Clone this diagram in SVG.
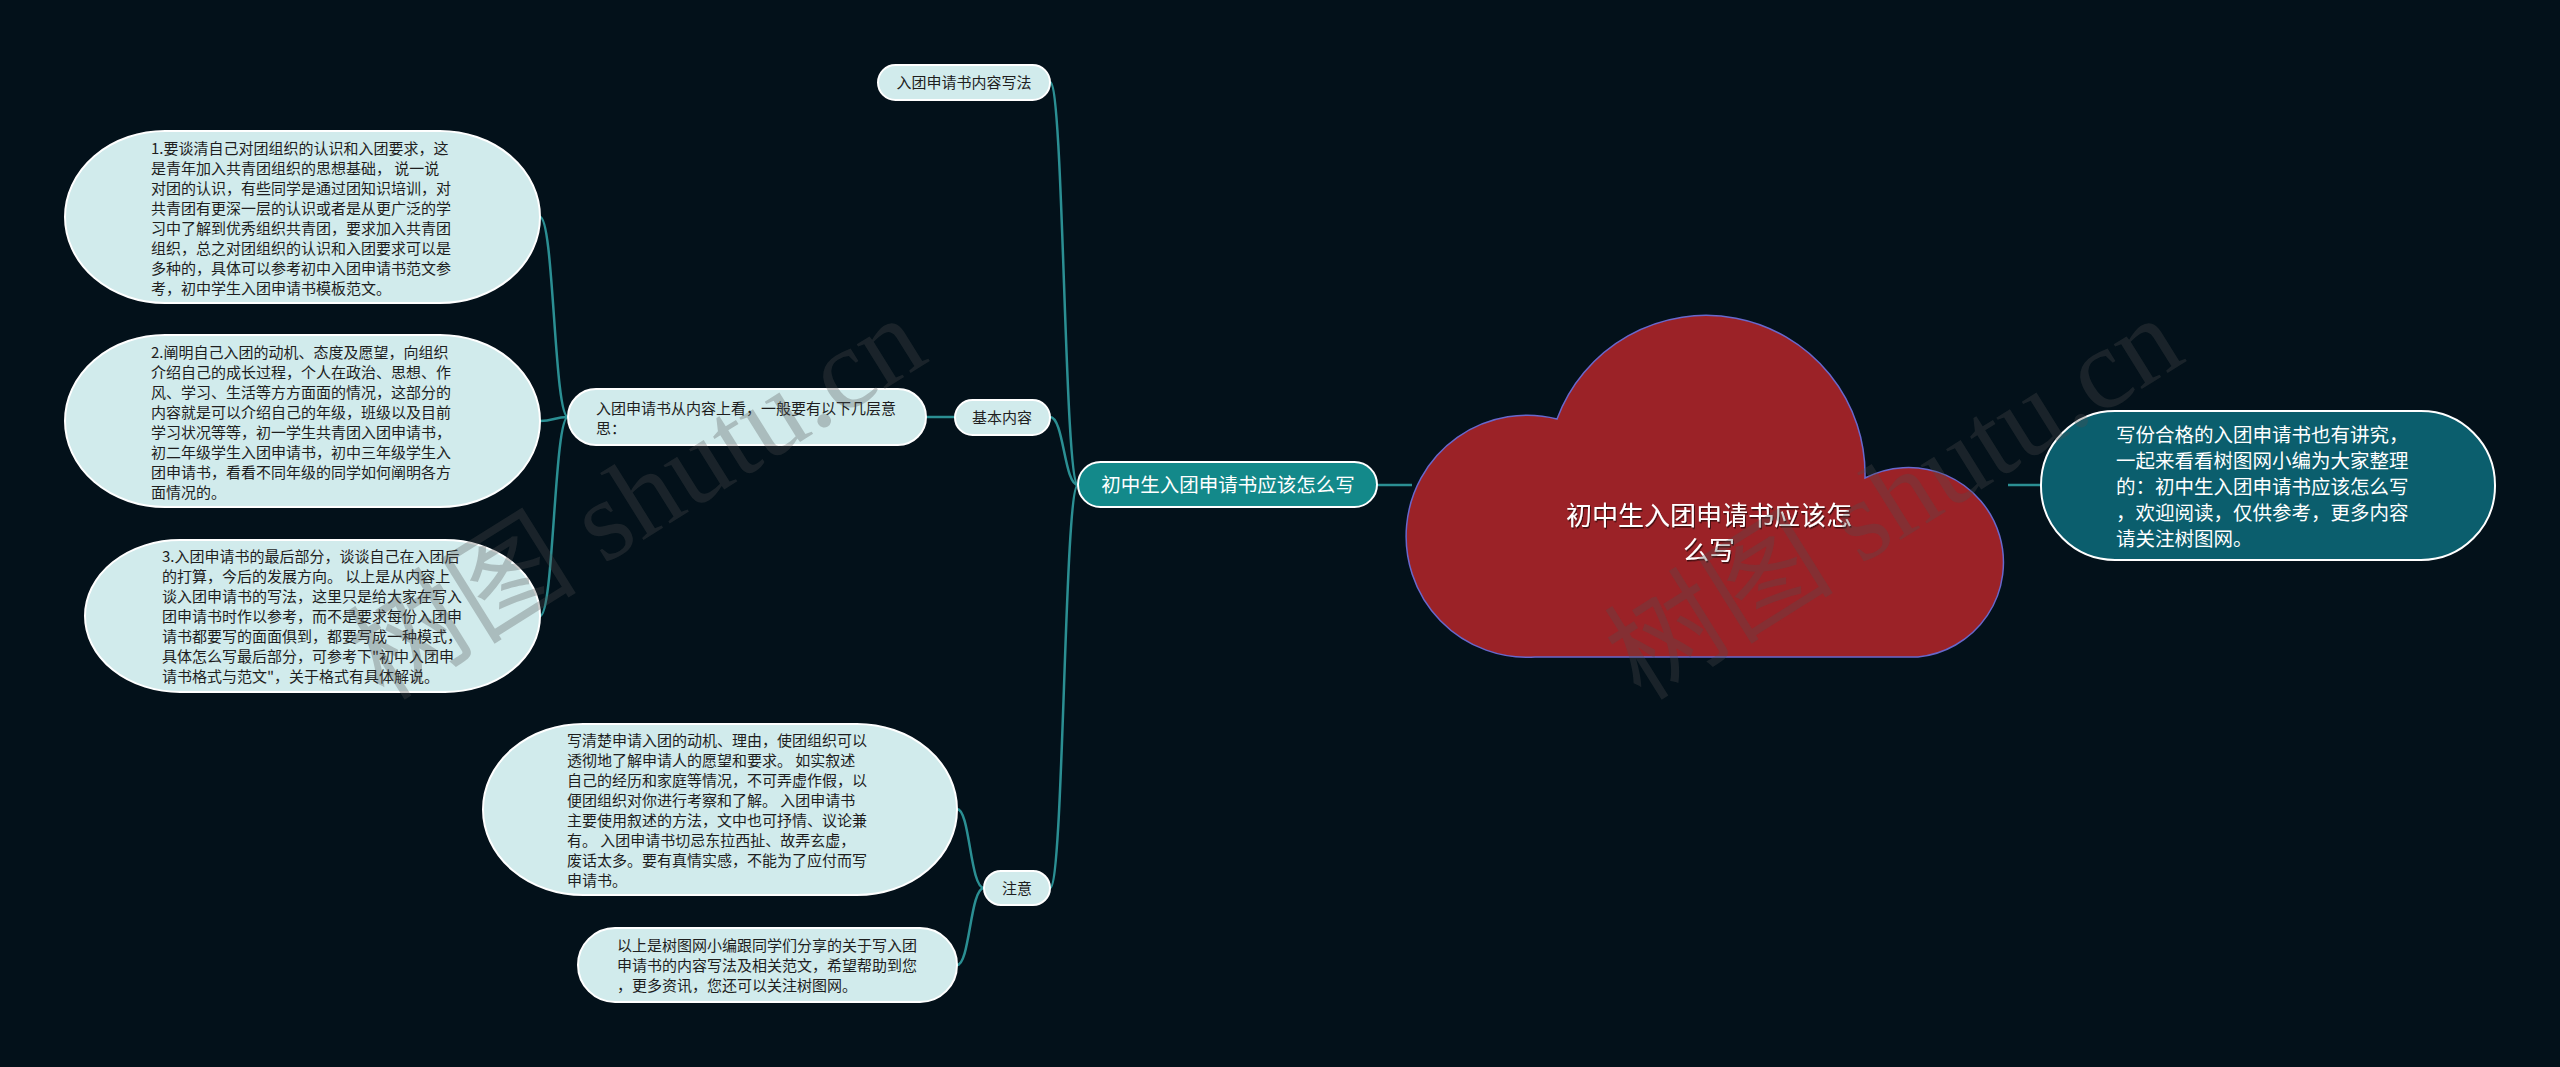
<svg xmlns="http://www.w3.org/2000/svg" width="2560" height="1067" viewBox="0 0 2560 1067">
<defs>
<style>
.bg{fill:#03111a}
.edge{fill:none;stroke:#2b8f93;stroke-width:2.5}
.light{fill:#d1ebec;stroke:#ffffff;stroke-width:2}
.t{font-family:"Noto Sans CJK SC","Noto Sans",sans-serif;font-size:15px;fill:#1e1e1e}
.tc{text-anchor:middle}
.w{font-family:"Noto Sans CJK SC","Noto Sans",sans-serif;fill:#ffffff}
.wm{font-family:"Liberation Serif","Noto Sans CJK SC",serif;font-size:115px;fill:#505050;fill-opacity:0.3}
</style>
<filter id="sh" x="-10%" y="-30%" width="120%" height="160%">
<feDropShadow dx="1" dy="1.5" stdDeviation="0.6" flood-color="#000" flood-opacity="0.6"/>
</filter>
</defs>
<rect class="bg" x="0" y="0" width="2560" height="1067"/>

<g id="connectors">
<path class="edge" d="M1078,485 C1064,485 1064,82 1050,82"/>
<path class="edge" d="M1078,485 C1064,485 1064,417 1050,417"/>
<path class="edge" d="M1078,485 C1064,485 1064,888 1050,888"/>
<path class="edge" d="M1377,485 L1412,485"/>
<path class="edge" d="M2008,485 L2041,485"/>
<path class="edge" d="M955,417 L926,417"/>
<path class="edge" d="M568,417 C554,417 554,217 540,217"/>
<path class="edge" d="M568,417 C554,417 554,421 540,421"/>
<path class="edge" d="M568,417 C554,417 554,616 540,616"/>
<path class="edge" d="M984,888 C970,888 970,809 957,809"/>
<path class="edge" d="M984,888 C970,888 970,965 957,965"/>
</g>

<g id="root">
<path d="M1557,419 A159,159 0 0 1 1865,478 A95,95 0 1 1 1918,657 L1535,657 A121,121 0 1 1 1557,419 Z" fill="#9b2227" stroke="#6868cc" stroke-width="1.5"/>
<g filter="url(#sh)">
<text class="w tc" x="1709" y="525" font-size="26">初中生入团申请书应该怎</text>
<text class="w tc" x="1709" y="560" font-size="26">么写</text>
</g>
</g>

<g id="intro">
<rect x="2041" y="411" width="454" height="149" rx="74" ry="74" fill="#0b5e6d" stroke="#ffffff" stroke-width="2"/>
<text class="w" font-size="19.5" x="2116" y="442">写份合格的入团申请书也有讲究，</text>
<text class="w" font-size="19.5" x="2116" y="468">一起来看看树图网小编为大家整理</text>
<text class="w" font-size="19.5" x="2116" y="494">的：初中生入团申请书应该怎么写</text>
<text class="w" font-size="19.5" x="2116" y="520">，欢迎阅读，仅供参考，更多内容</text>
<text class="w" font-size="19.5" x="2116" y="546">请关注树图网。</text>
</g>

<g id="main">
<rect x="1078" y="462" width="299" height="45" rx="22.5" ry="22.5" fill="#13898a" stroke="#ffffff" stroke-width="2"/>
<text class="w tc" font-size="19.5" x="1228" y="492">初中生入团申请书应该怎么写</text>
</g>

<g id="n-xiefa">
<rect class="light" x="878" y="65" width="172" height="35" rx="17.5" ry="17.5"/>
<text class="t tc" x="964" y="88">入团申请书内容写法</text>
</g>

<g id="n-jiben">
<rect class="light" x="955" y="400" width="95" height="35" rx="17.5" ry="17.5"/>
<text class="t tc" x="1002" y="423">基本内容</text>
</g>

<g id="n-zhuyi">
<rect class="light" x="984" y="871" width="66" height="34" rx="17" ry="17"/>
<text class="t tc" x="1017" y="894">注意</text>
</g>

<g id="n-cong">
<rect class="light" x="568" y="389" width="358" height="56" rx="28" ry="28"/>
<text class="t" x="596" y="414">入团申请书从内容上看，一般要有以下几层意</text>
<text class="t" x="596" y="434">思：</text>
</g>

<g id="n-1">
<rect class="light" x="65" y="131" width="475" height="172" rx="100" ry="86"/>
<text class="t" x="151" y="154">1.要谈清自己对团组织的认识和入团要求，这</text>
<text class="t" x="151" y="174">是青年加入共青团组织的思想基础， 说一说</text>
<text class="t" x="151" y="194">对团的认识，有些同学是通过团知识培训，对</text>
<text class="t" x="151" y="214">共青团有更深一层的认识或者是从更广泛的学</text>
<text class="t" x="151" y="234">习中了解到优秀组织共青团，要求加入共青团</text>
<text class="t" x="151" y="254">组织，总之对团组织的认识和入团要求可以是</text>
<text class="t" x="151" y="274">多种的，具体可以参考初中入团申请书范文参</text>
<text class="t" x="151" y="294">考，初中学生入团申请书模板范文。</text>
</g>

<g id="n-2">
<rect class="light" x="65" y="335" width="475" height="172" rx="100" ry="86"/>
<text class="t" x="151" y="358">2.阐明自己入团的动机、态度及愿望，向组织</text>
<text class="t" x="151" y="378">介绍自己的成长过程，个人在政治、思想、作</text>
<text class="t" x="151" y="398">风、学习、生活等方方面面的情况，这部分的</text>
<text class="t" x="151" y="418">内容就是可以介绍自己的年级，班级以及目前</text>
<text class="t" x="151" y="438">学习状况等等，初一学生共青团入团申请书，</text>
<text class="t" x="151" y="458">初二年级学生入团申请书，初中三年级学生入</text>
<text class="t" x="151" y="478">团申请书，看看不同年级的同学如何阐明各方</text>
<text class="t" x="151" y="498">面情况的。</text>
</g>

<g id="n-3">
<rect class="light" x="85" y="540" width="455" height="152" rx="95" ry="76"/>
<text class="t" x="162" y="562">3.入团申请书的最后部分，谈谈自己在入团后</text>
<text class="t" x="162" y="582">的打算，今后的发展方向。 以上是从内容上</text>
<text class="t" x="162" y="602">谈入团申请书的写法，这里只是给大家在写入</text>
<text class="t" x="162" y="622">团申请书时作以参考，而不是要求每份入团申</text>
<text class="t" x="162" y="642">请书都要写的面面俱到，都要写成一种模式，</text>
<text class="t" x="162" y="662">具体怎么写最后部分，可参考下"初中入团申</text>
<text class="t" x="162" y="682">请书格式与范文"，关于格式有具体解说。</text>
</g>

<g id="n-4">
<rect class="light" x="483" y="724" width="474" height="171" rx="100" ry="85.5"/>
<text class="t" x="567" y="746">写清楚申请入团的动机、理由，使团组织可以</text>
<text class="t" x="567" y="766">透彻地了解申请人的愿望和要求。 如实叙述</text>
<text class="t" x="567" y="786">自己的经历和家庭等情况，不可弄虚作假，以</text>
<text class="t" x="567" y="806">便团组织对你进行考察和了解。 入团申请书</text>
<text class="t" x="567" y="826">主要使用叙述的方法，文中也可抒情、议论兼</text>
<text class="t" x="567" y="846">有。 入团申请书切忌东拉西扯、故弄玄虚，</text>
<text class="t" x="567" y="866">废话太多。要有真情实感，不能为了应付而写</text>
<text class="t" x="567" y="886">申请书。</text>
</g>

<g id="n-5">
<rect class="light" x="578" y="928" width="379" height="74" rx="37" ry="37"/>
<text class="t" x="617" y="951">以上是树图网小编跟同学们分享的关于写入团</text>
<text class="t" x="617" y="971">申请书的内容写法及相关范文，希望帮助到您</text>
<text class="t" x="617" y="991">，更多资讯，您还可以关注树图网。</text>
</g>

<g id="watermarks">
<text class="wm" transform="translate(384,702) rotate(-32)">树图 shutu.cn</text>
<text class="wm" transform="translate(1641,702) rotate(-32)">树图 shutu.cn</text>
</g>
</svg>
